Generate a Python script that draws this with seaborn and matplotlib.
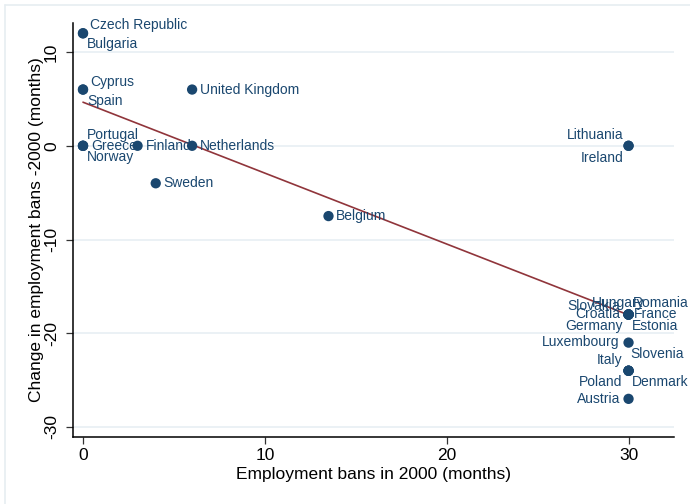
import matplotlib
matplotlib.use("Agg")
import matplotlib.pyplot as plt
import seaborn as sns
import pandas as pd

# Country data: employment bans for asylum seekers in 2000 and the change since then (months)
countries = [
    "Czech Republic", "Bulgaria", "Cyprus", "Spain", "United Kingdom",
    "Portugal", "Greece", "Norway", "Finland", "Netherlands", "Sweden",
    "Belgium", "Lithuania", "Ireland",
    "Hungary", "Romania", "Slovakia", "Croatia", "France", "Germany", "Estonia",
    "Luxembourg", "Italy", "Slovenia", "Poland", "Denmark", "Austria",
]
bans_2000 = [
    0, 0, 0, 0, 6,
    0, 0, 0, 3, 6, 4,
    13.5, 30, 30,
    30, 30, 30, 30, 30, 30, 30,
    30, 30, 30, 30, 30, 30,
]
change = [
    12, 12, 6, 6, 6,
    0, 0, 0, 0, 0, -4,
    -7.5, 0, 0,
    -18, -18, -18, -18, -18, -18, -18,
    -21, -24, -24, -24, -24, -27,
]

x_ticks = [0, 10, 20, 30]
y_ticks = [-30, -20, -10, 0, 10]
x_title = "Employment bans in 2000 (months)"
y_title = "Change in employment bans -2000 (months)"

df = pd.DataFrame({"country": countries, "bans": bans_2000, "change": change})

# Label placement around each marker: (dx, dy) in pixels, horizontal alignment
label_pos = {
    "Czech Republic": (7, 8, "left"), "Bulgaria": (4, -11, "left"),
    "Cyprus": (7, 8, "left"), "Spain": (4, -11, "left"),
    "United Kingdom": (8, 0, "left"),
    "Portugal": (4, 11, "left"), "Greece": (8, 0, "left"), "Norway": (4, -11, "left"),
    "Finland": (8, 0, "left"), "Netherlands": (8, 0, "left"), "Sweden": (8, 0, "left"),
    "Belgium": (7, 0, "left"),
    "Lithuania": (-5, 11, "right"), "Ireland": (-5, -12, "right"),
    "Hungary": (-10, 11, "center"), "Romania": (4, 11, "left"),
    "Slovakia": (-8, 8, "right"), "Croatia": (-8, 0, "right"), "France": (5, 0, "left"),
    "Germany": (-6, -12, "right"), "Estonia": (3, -12, "left"),
    "Luxembourg": (-9, 1, "right"),
    "Italy": (-6, 11, "right"), "Slovenia": (2, 17, "left"),
    "Poland": (-6, -11, "right"), "Denmark": (3, -11, "left"),
    "Austria": (-8, 0, "right"),
}

sns.set_theme(style="white")
plt.rcParams["font.family"] = ["Liberation Sans", "DejaVu Sans"]
plt.rcParams["axes.unicode_minus"] = False

navy = "#1a476f"
maroon = "#90353b"

fig = plt.figure(figsize=(6.9, 5.04), dpi=100)
fig.patch.set_facecolor("white")
ax = fig.add_axes([73 / 690, 1 - 437 / 504, (674 - 73) / 690, (437 - 23) / 504])

# Light outer frame of the graph region
fig.add_artist(plt.Line2D([5 / 690, 5 / 690], [0, 1 - 5 / 504], transform=fig.transFigure,
                          color="#e6edf1", lw=1.2))
fig.add_artist(plt.Line2D([5 / 690, 1], [1 - 5 / 504, 1 - 5 / 504], transform=fig.transFigure,
                          color="#e6edf1", lw=1.2))

ax.set_xlim(-0.55, 32.5)
ax.set_ylim(-31.07, 13.1)
ax.set_yticks(y_ticks)
ax.set_xticks(x_ticks)
ax.yaxis.grid(True, color="#e6eef2", lw=1.1)
ax.xaxis.grid(False)
ax.set_axisbelow(True)

sns.regplot(data=df, x="bans", y="change", ci=None, scatter=False, ax=ax,
            color=maroon, line_kws={"lw": 1.2, "zorder": 2})
sns.scatterplot(data=df, x="bans", y="change", ax=ax, color=navy, s=55,
                edgecolor="none", linewidth=0, zorder=3)

for name, xv, yv in zip(countries, bans_2000, change):
    dx, dy, ha = label_pos[name]
    ax.annotate(name, (xv, yv), xytext=(dx, dy), textcoords="offset pixels",
                ha=ha, va="center", color=navy, fontsize=10.0, zorder=4)

for side in ["top", "right"]:
    ax.spines[side].set_visible(False)
for side in ["left", "bottom"]:
    ax.spines[side].set_color("black")
    ax.spines[side].set_linewidth(1.1)

ax.tick_params(axis="both", which="major", direction="out", length=5, width=0.9,
               color="#333333", labelsize=12.5, labelcolor="black",
               left=True, bottom=True)
ax.tick_params(axis="y", pad=5)
ax.tick_params(axis="x", pad=3)
for lab in ax.get_yticklabels():
    lab.set_rotation(90)
    lab.set_va("center")

ax.set_xlabel(x_title, fontsize=12.5, color="black", labelpad=3)
ax.set_ylabel(y_title, fontsize=12.5, color="black", labelpad=0)

fig.savefig("out.png", dpi=100, facecolor="white")
